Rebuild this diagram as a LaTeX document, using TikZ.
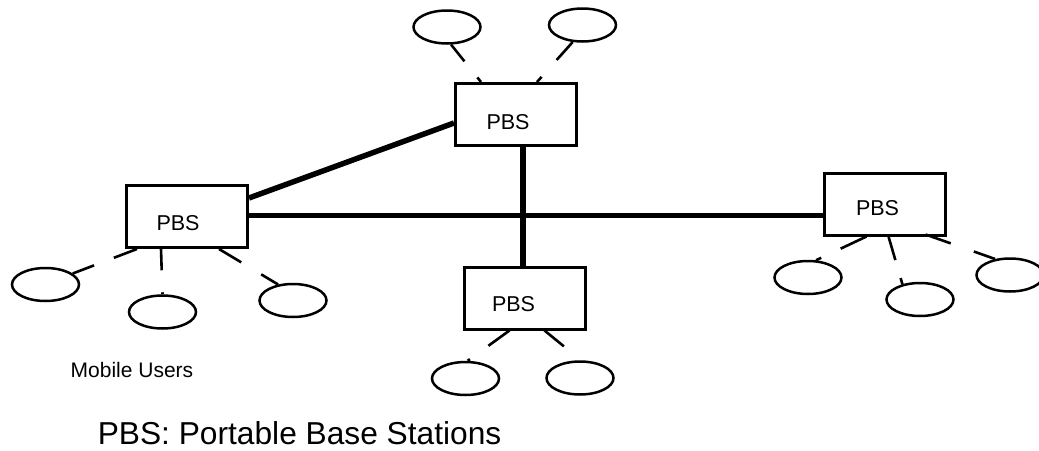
\documentclass[tikz,border=0pt]{standalone}
\usepackage{fontspec}
\setmainfont{Liberation Sans}
\usetikzlibrary{shapes.geometric,calc}
\begin{document}
\begin{tikzpicture}[x=1pt,y=-1pt,
  pbs/.style={draw,line width=3pt,minimum width=121pt,minimum height=62pt,inner sep=0pt},
  user/.style={draw,ellipse,line width=2.5pt,minimum width=67pt,minimum height=33pt,inner sep=0pt},
  link/.style={line width=2.6pt},
  trunk/.style={line width=5.5pt},
  lbl/.style={inner sep=0pt,anchor=base west,font=\fontsize{21.5}{24}\selectfont}]
\useasboundingbox (0,0) rectangle (1039,450);
\clip (0,0) rectangle (1039,450);
% base stations
\node[pbs] (T) at (516,114.5) {};
\node[pbs] (L) at (187,216.5) {};
\node[pbs] (B) at (524.5,298) {};
\node[pbs] (R) at (884.5,204) {};
\node[lbl] (Tt) at ([xshift=32.3pt,yshift=-47pt]T.north west) {PBS};
\node[lbl] (Lt) at ([xshift=31.3pt,yshift=-46pt]L.north west) {PBS};
\node[lbl] (Bt) at ([xshift=29.3pt,yshift=-46pt]B.north west) {PBS};
\node[lbl] (Rt) at ([xshift=33.3pt,yshift=-44pt]R.north west) {PBS};
% mobile users
\node[user] (T1) at (447,27) {};
\node[user] (T2) at (582.5,25) {};
\node[user] (L1) at (45.5,284.5) {};
\node[user] (L2) at (162.5,312) {};
\node[user] (L3) at (293,300.5) {};
\node[user] (B1) at (465.5,378.5) {};
\node[user] (B2) at (580,378) {};
\node[user] (R1) at (808,277.5) {};
\node[user] (R2) at (920,299.5) {};
\node[user] (R3) at (1010,275) {};
% backbone
\draw[trunk] ([yshift=-8.5pt]T.west) -- ([yshift=18.5pt]L.east);
\draw[trunk] ([xshift=7pt]T.south) -- ([xshift=7pt]T.south |- B.north);
\draw[trunk] ([yshift=1pt]L.east) -- ([yshift=1pt]L.east -| R.west);
% wireless links
\draw[link,dash pattern=on 21.4pt off 20.6pt on 20pt off 100pt] (T1.-77) -- ([xshift=27pt]T.north west);
\draw[link,dash pattern=on 24pt off 22.7pt on 20pt off 100pt] (T2.-120) -- ([xshift=83pt]T.north west);
\draw[link,dash pattern=on 22.8pt off 21.2pt on 40pt off 100pt] (L1.22) -- ([xshift=12pt]L.south west);
\draw[link,dash pattern=on 2pt off 22pt on 40pt off 100pt] (L2.90) -- ([xshift=36pt]L.south west);
\draw[link,dash pattern=on 19.7pt off 23.3pt on 40pt off 100pt] (L3.133) -- ([xshift=94pt]L.south west);
\draw[link,dash pattern=on 2.8pt off 22.8pt on 40pt off 100pt] (B1.83) -- ([xshift=47pt]B.south west);
\draw[link,dash pattern=on 0pt off 22pt on 40pt off 100pt] (B2.87) -- ([xshift=82pt]B.south west);
\draw[link,dash pattern=on 5.7pt off 21.5pt on 40pt off 100pt] (R1.65) -- ([xshift=44pt]R.south west);
\draw[link,dash pattern=on 6.4pt off 18.7pt on 40pt off 100pt] (R2.139) -- ([xshift=66pt]R.south west);
\draw[link,dash pattern=on 22.5pt off 24.5pt on 40pt off 100pt] (R3.133) -- ([xshift=103pt,yshift=2pt]R.south west);
% captions
\node[inner sep=0pt,anchor=base west,font=\fontsize{21}{24}\selectfont] (mu) at (70.5,377) {Mobile Users};
\node[inner sep=0pt,text depth=0pt,anchor=base west,font=\fontsize{31.7}{36}\selectfont] (title) at (97.6,444) {PBS: Portable Base Stations};
\end{tikzpicture}
\end{document}
